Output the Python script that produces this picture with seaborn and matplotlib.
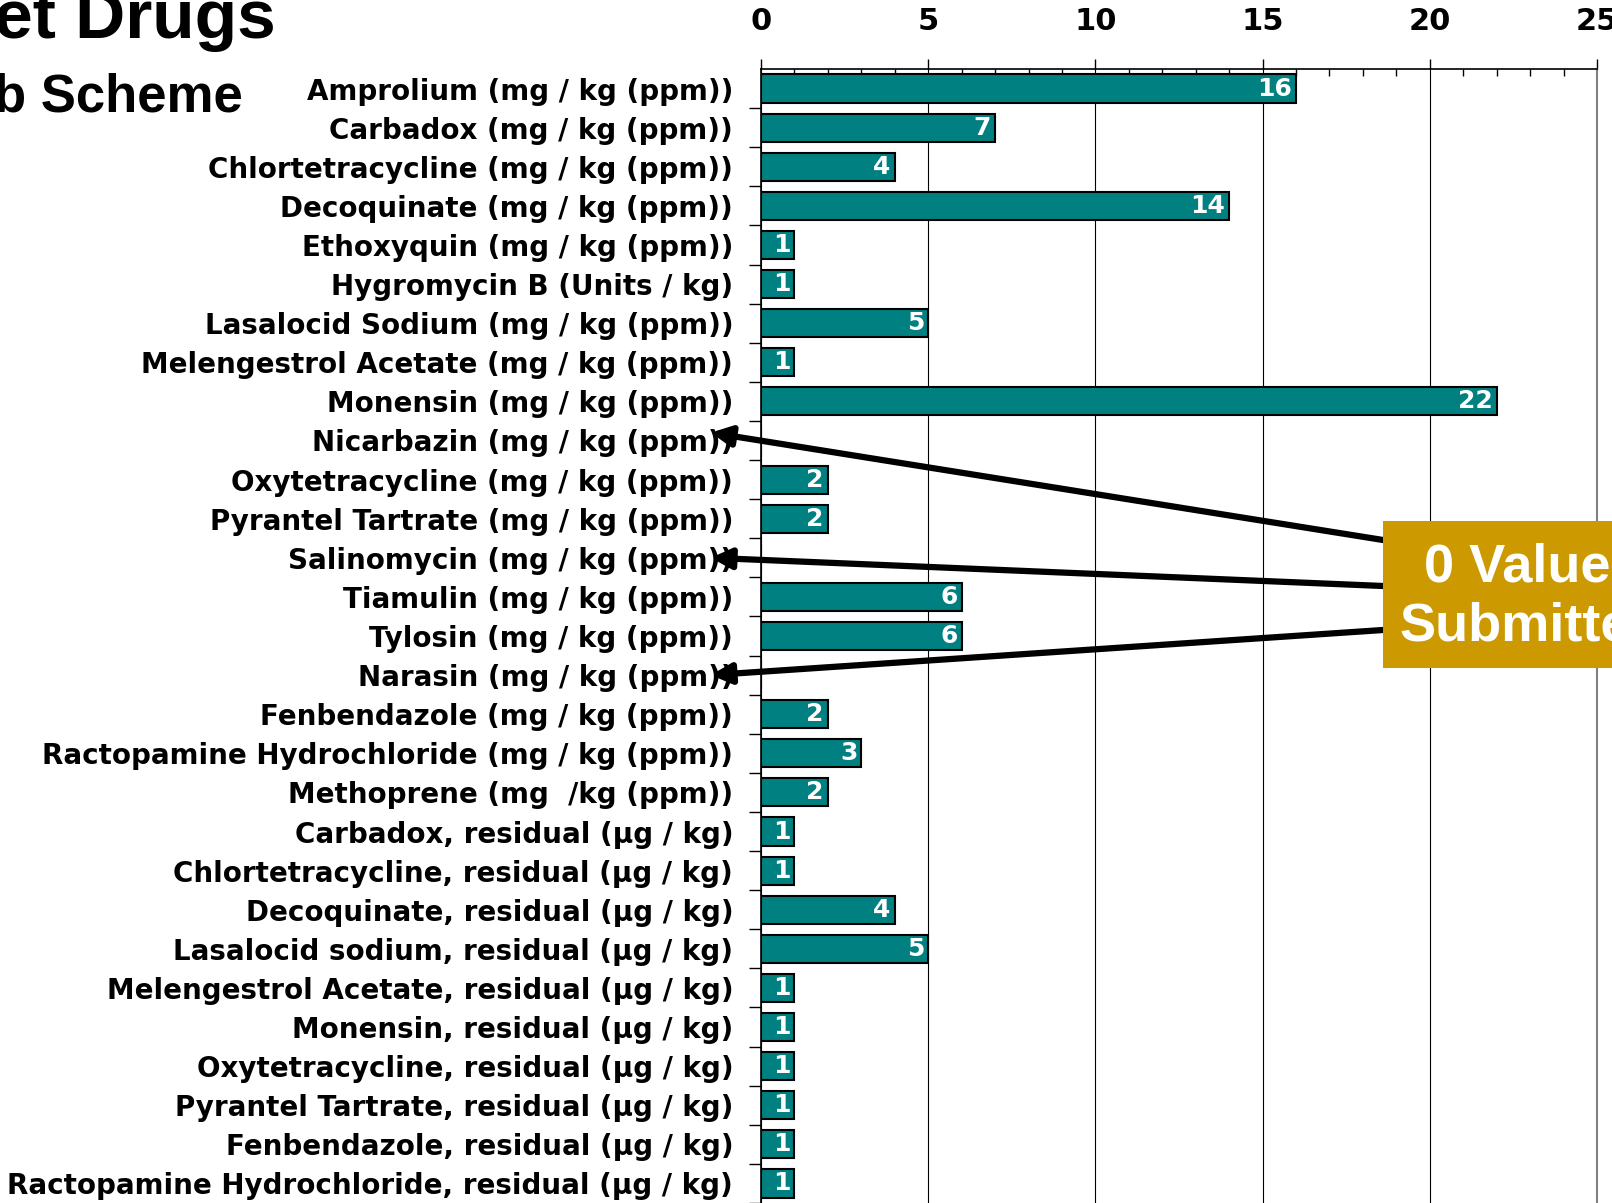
import numpy as np
import pandas as pd
import seaborn as sns
import matplotlib.pyplot as plt
from matplotlib.patches import Rectangle
from matplotlib.ticker import MultipleLocator, FixedLocator

# data
drugs = [
    'Amprolium (mg / kg (ppm))',
    'Carbadox (mg / kg (ppm))',
    'Chlortetracycline (mg / kg (ppm))',
    'Decoquinate (mg / kg (ppm))',
    'Ethoxyquin (mg / kg (ppm))',
    'Hygromycin B (Units / kg)',
    'Lasalocid Sodium (mg / kg (ppm))',
    'Melengestrol Acetate (mg / kg (ppm))',
    'Monensin (mg / kg (ppm))',
    'Nicarbazin (mg / kg (ppm))',
    'Oxytetracycline (mg / kg (ppm))',
    'Pyrantel Tartrate (mg / kg (ppm))',
    'Salinomycin (mg / kg (ppm))',
    'Tiamulin (mg / kg (ppm))',
    'Tylosin (mg / kg (ppm))',
    'Narasin (mg / kg (ppm))',
    'Fenbendazole (mg / kg (ppm))',
    'Ractopamine Hydrochloride (mg / kg (ppm))',
    'Methoprene (mg  /kg (ppm))',
    'Carbadox, residual (µg / kg)',
    'Chlortetracycline, residual (µg / kg)',
    'Decoquinate, residual (µg / kg)',
    'Lasalocid sodium, residual (µg / kg)',
    'Melengestrol Acetate, residual (µg / kg)',
    'Monensin, residual (µg / kg)',
    'Oxytetracycline, residual (µg / kg)',
    'Pyrantel Tartrate, residual (µg / kg)',
    'Fenbendazole, residual (µg / kg)',
    'Ractopamine Hydrochloride, residual (µg / kg)',
]
counts = [16, 7, 4, 14, 1, 1, 5, 1, 22, 0, 2, 2, 0, 6, 6, 0, 2, 3, 2,
          1, 1, 4, 5, 1, 1, 1, 1, 1, 1]
zero_drugs = ['Nicarbazin (mg / kg (ppm))',
              'Salinomycin (mg / kg (ppm))',
              'Narasin (mg / kg (ppm))']
x_ticks = [0, 5, 10, 15, 20, 25]

df = pd.DataFrame({'drug': drugs, 'count': counts})

sns.set_style('white')
plt.rcParams['font.family'] = ['Liberation Sans', 'DejaVu Sans']
plt.rcParams['font.weight'] = 'bold'
plt.rcParams['text.color'] = 'black'
plt.rcParams['xtick.color'] = 'black'
plt.rcParams['ytick.color'] = 'black'
plt.rcParams['axes.labelcolor'] = 'black'

W, H = 1612, 1203
fig = plt.figure(figsize=(W / 100, H / 100), dpi=100)
ax = fig.add_axes([761 / W, 0.0, (1597 - 761) / W, 1 - 69 / H])

sns.barplot(df, x='count', y='drug', orient='h', color='#008080',
            saturation=1, edgecolor='black', linewidth=1.5, width=0.72, ax=ax)

ax.set_xlim(0, 25)
ax.set_ylim(len(drugs) - 0.5, -0.5)
ax.set_xlabel('')
ax.set_ylabel('')

# x axis on top
ax.xaxis.tick_top()
ax.xaxis.set_major_locator(FixedLocator(x_ticks))
ax.xaxis.set_minor_locator(MultipleLocator(1))
ax.tick_params(axis='x', which='major', direction='out', length=7, width=1,
               pad=17, labelsize=22, top=True, bottom=False)
ax.tick_params(axis='x', which='minor', direction='in', length=5, width=1,
               top=True, bottom=False)
ax.grid(axis='x', which='major', color='black', linewidth=0.8)
ax.set_axisbelow(True)
for lab in ax.get_xticklabels():
    lab.set_fontweight('bold')
    lab.set_family(['DejaVu Sans'])

# y axis: labels at rows, ticks between rows
ax.yaxis.set_minor_locator(FixedLocator(np.arange(len(drugs)) + 0.5))
ax.tick_params(axis='y', which='major', length=0, pad=20, labelsize=20)
ax.tick_params(axis='y', which='minor', direction='out', length=9, width=1,
               left=True)
for lab in ax.get_yticklabels():
    lab.set_fontweight('bold')
    lab.set_family(['DejaVu Sans'])

for side in ['top', 'left']:
    ax.spines[side].set_color('black')
    ax.spines[side].set_linewidth(1.2)
ax.spines['right'].set_color('#808080')
ax.spines['right'].set_linewidth(1.5)
ax.spines['bottom'].set_visible(False)

# value labels inside the bar ends
for bar, v in zip(ax.patches, counts):
    if v == 0:
        continue
    ax.text(v - 0.12, bar.get_y() + bar.get_height() / 2, str(v),
            ha='right', va='center', color='white', fontsize=18,
            fontweight='bold', family=['DejaVu Sans'])

# cut-off title fragments
fig.text(-0.004, 1 - 20 / H, 'et Drugs', fontsize=50, fontweight='bold',
         ha='left', va='center')
fig.text(-0.004, 1 - 97 / H, 'b Scheme', fontsize=38, fontweight='bold',
         ha='left', va='center')

# gold callout box
fig.add_artist(Rectangle((1383 / W, 1 - 668 / H), 300 / W, 147 / H,
                         transform=fig.transFigure, facecolor='#CC9900',
                         edgecolor='none', zorder=5))
fig.text(1532 / W, 1 - 597 / H, '0 Values\nSubmitted', color='white',
         fontsize=39, fontweight='bold', ha='center', va='center',
         linespacing=1.22, zorder=6)

# arrows to the zero rows
starts = [540, 586, 630]
for name, sy in zip(zero_drugs, starts):
    row = drugs.index(name)
    ax.annotate('', xy=(-1.5, row - 0.2 if row == 9 else row), xycoords='data',
                xytext=(1383 / W, 1 - sy / H), textcoords='figure fraction',
                annotation_clip=False,
                arrowprops=dict(arrowstyle='-|>,head_length=1.2,head_width=0.6',
                                color='black', lw=4.5, shrinkA=0, shrinkB=0),
                zorder=7)

fig.savefig('out.png', dpi=100)
